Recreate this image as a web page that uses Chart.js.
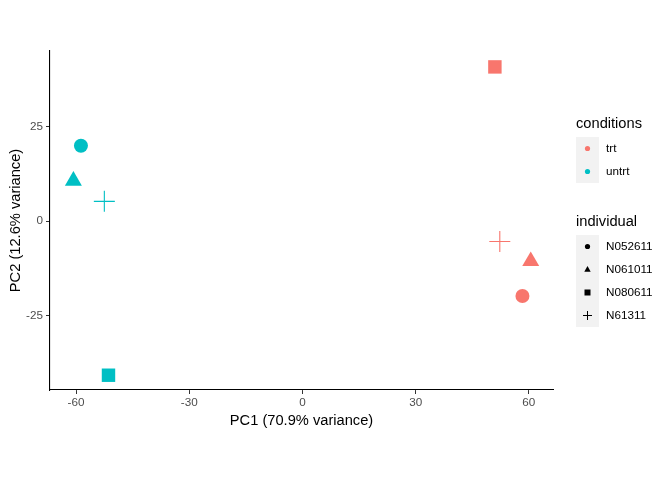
<!DOCTYPE html>
<html>
<head>
<meta charset="utf-8">
<script src="https://cdn.jsdelivr.net/npm/chart.js@4"></script>
<style>
  html, body { margin: 0; padding: 0; background: #fff; }
  #wrap { width: 672px; height: 480px; }
</style>
</head>
<body>
<div id="wrap"><canvas id="pca"></canvas></div>
<script>
// individuals in legend order
const individuals = ['N052611', 'N061011', 'N080611', 'N61311'];
const conditions = ['trt', 'untrt'];

// PC scores, same order as individuals
const pc1Trt = [58.3, 60.5, 51.0, 52.3];
const pc2Trt = [-19.8, -10.6, 40.7, -5.4];
const pc1Untrt = [-58.7, -60.7, -51.4, -52.5];
const pc2Untrt = [19.9, 10.6, -40.7, 5.2];

const xTicks = [-60, -30, 0, 30, 60];
const yTicks = [-25, 0, 25];

const colores = { trt: '#F8766D', untrt: '#00BFC4' };
const formas = ['circle', 'triangle', 'rect', 'cross'];
const radios = [7, 9.8, 9.5, 10.5];
const bordes = [0, 0, 0, 1.1];

function puntos(xs, ys) {
    return xs.map((x, i) => ({ x: x, y: ys[i], ind: individuals[i] }));
}

// leyenda estilo ggplot dibujada en el canvas
const leyendaGG = {
    id: 'leyendaGG',
    afterDraw(chart) {
        const ctx = chart.ctx;
        const kx = 576, kw = 23, kh = 23, tx = 606;
        ctx.save();
        ctx.textBaseline = 'middle';
        ctx.textAlign = 'left';

        // conditions
        ctx.fillStyle = '#000';
        ctx.font = '14.67px "Liberation Sans", Arial, sans-serif';
        ctx.fillText('conditions', 576, 124);
        ctx.fillStyle = '#F2F2F2';
        ctx.fillRect(kx, 137, kw, kh * conditions.length);
        conditions.forEach((c, i) => {
            const cy = 137 + kh * i + kh / 2;
            ctx.fillStyle = colores[c];
            ctx.beginPath();
            ctx.arc(kx + kw / 2, cy, 2.6, 0, Math.PI * 2);
            ctx.fill();
            ctx.fillStyle = '#000';
            ctx.font = '11.7px "Liberation Sans", Arial, sans-serif';
            ctx.fillText(c, tx, cy);
        });

        // individual
        ctx.fillStyle = '#000';
        ctx.font = '14.67px "Liberation Sans", Arial, sans-serif';
        ctx.fillText('individual', 576, 222);
        ctx.fillStyle = '#F2F2F2';
        ctx.fillRect(kx, 235, kw, kh * individuals.length);
        individuals.forEach((n, i) => {
            const cx = kx + kw / 2, cy = 235 + kh * i + kh / 2;
            ctx.fillStyle = '#000';
            ctx.strokeStyle = '#000';
            ctx.lineWidth = 1;
            ctx.beginPath();
            if (formas[i] === 'circle') {
                ctx.arc(cx, cy, 2.6, 0, Math.PI * 2);
                ctx.fill();
            } else if (formas[i] === 'triangle') {
                ctx.moveTo(cx, cy - 3.4);
                ctx.lineTo(cx + 3.2, cy + 2.2);
                ctx.lineTo(cx - 3.2, cy + 2.2);
                ctx.closePath();
                ctx.fill();
            } else if (formas[i] === 'rect') {
                ctx.fillRect(cx - 3, cy - 3, 6, 6);
            } else {
                ctx.moveTo(cx - 4.5, cy); ctx.lineTo(cx + 4.5, cy);
                ctx.moveTo(cx, cy - 4.5); ctx.lineTo(cx, cy + 4.5);
                ctx.stroke();
            }
            ctx.font = '11.7px "Liberation Sans", Arial, sans-serif';
            ctx.fillText(n, tx, cy);
        });
        ctx.restore();
    }
};

const fuenteTick = { family: '"Liberation Sans", Arial, sans-serif', size: 11.7 };
const fuenteTitulo = { family: '"Liberation Sans", Arial, sans-serif', size: 14.67 };

new Chart(document.getElementById('pca'), {
    type: 'scatter',
    data: {
        datasets: [
            {
                label: 'trt',
                data: puntos(pc1Trt, pc2Trt),
                backgroundColor: colores.trt,
                borderColor: colores.trt,
                pointStyle: formas,
                pointRadius: radios,
                pointBorderWidth: bordes
            },
            {
                label: 'untrt',
                data: puntos(pc1Untrt, pc2Untrt),
                backgroundColor: colores.untrt,
                borderColor: colores.untrt,
                pointStyle: formas,
                pointRadius: radios,
                pointBorderWidth: bordes
            }
        ]
    },
    options: {
        responsive: true,
        maintainAspectRatio: false,
        animation: false,
        events: [],
        layout: { padding: { top: 51, right: 119, left: 0, bottom: 0 } },
        plugins: { legend: { display: false }, tooltip: { enabled: false } },
        scales: {
            x: {
                type: 'linear',
                min: -66.9,
                max: 66.4,
                afterBuildTicks: s => { s.ticks = xTicks.map(v => ({ value: v })); },
                afterFit: s => { s.height = 90; },
                grid: { drawOnChartArea: false, drawTicks: true, tickLength: 4, color: '#333333' },
                border: { display: true, color: '#000', width: 1.1 },
                ticks: { color: '#4D4D4D', font: fuenteTick, padding: 2, maxRotation: 0 },
                title: { display: true, text: 'PC1 (70.9% variance)', color: '#000', font: fuenteTitulo, padding: { top: 0, bottom: 50 } }
            },
            y: {
                type: 'linear',
                min: -44.6,
                max: 44.9,
                afterBuildTicks: s => { s.ticks = yTicks.map(v => ({ value: v })); },
                afterFit: s => { s.width = 50; },
                grid: { drawOnChartArea: false, drawTicks: true, tickLength: 4, color: '#333333' },
                border: { display: true, color: '#000', width: 1.1 },
                ticks: { color: '#4D4D4D', font: fuenteTick, padding: 3 },
                title: { display: true, text: 'PC2 (12.6% variance)', color: '#000', font: fuenteTitulo, padding: { top: 7, bottom: 0 } }
            }
        }
    },
    plugins: [leyendaGG]
});
</script>
</body>
</html>
